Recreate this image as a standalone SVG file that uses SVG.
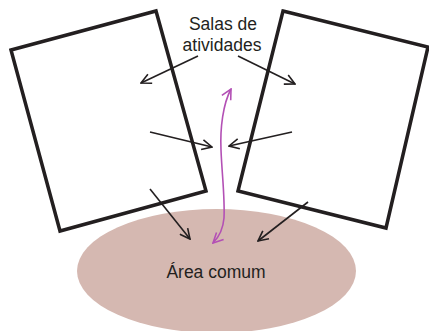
<svg xmlns="http://www.w3.org/2000/svg" width="429" height="331" viewBox="0 0 429 331">
<defs>
<style>
.room{fill:none;stroke:#231f20;stroke-width:3.5;stroke-linejoin:miter}
.arr{fill:none;stroke:#231f20;stroke-width:1.6}
.pur{fill:none;stroke:#b350b5;stroke-width:1.6}
.lbl{font-family:"Liberation Sans",Arial,sans-serif;font-size:17.5px;fill:#231f20;text-anchor:middle}
</style>
<marker id="ah" viewBox="0 0 12 12" refX="11" refY="6" markerWidth="12" markerHeight="12" markerUnits="userSpaceOnUse" orient="auto">
<path d="M1,1 L11,6 L1,11" fill="none" stroke="#231f20" stroke-width="1.6"/>
</marker>
<marker id="ahp" viewBox="0 0 12 12" refX="11" refY="6" markerWidth="12" markerHeight="12" markerUnits="userSpaceOnUse" orient="auto-start-reverse">
<path d="M1,1 L11,6 L1,11" fill="none" stroke="#b350b5" stroke-width="1.6"/>
</marker>
</defs>
<g id="area-comum">
<ellipse cx="216.5" cy="271" rx="139.5" ry="62" fill="#d5b8b1"/>
<text class="lbl" x="216" y="278">Área comum</text>
</g>
<g id="sala-esquerda">
<polygon class="room" points="11,50 156,11 206,191 60,231"/>
</g>
<g id="sala-direita">
<polygon class="room" points="283,11 428,47 386,228 238,191"/>
</g>
<g id="rotulo-salas">
<text class="lbl" x="223" y="30">Salas de</text>
<text class="lbl" x="222" y="51">atividades</text>
</g>
<g id="conectores">
<line class="arr" x1="198" y1="56" x2="141" y2="83" marker-end="url(#ah)"/>
<line class="arr" x1="238" y1="56" x2="295" y2="84" marker-end="url(#ah)"/>
<line class="arr" x1="150" y1="132" x2="212" y2="147" marker-end="url(#ah)"/>
<line class="arr" x1="292" y1="132" x2="229" y2="146" marker-end="url(#ah)"/>
<line class="arr" x1="150" y1="189" x2="190" y2="239" marker-end="url(#ah)"/>
<line class="arr" x1="308" y1="202" x2="258" y2="241" marker-end="url(#ah)"/>
<path class="pur" d="M231,89 C223,104 220,128 221,150 C222,175 225,198 224,218 C223,230 219,237 213,243" marker-start="url(#ahp)" marker-end="url(#ahp)"/>
</g>
</svg>
